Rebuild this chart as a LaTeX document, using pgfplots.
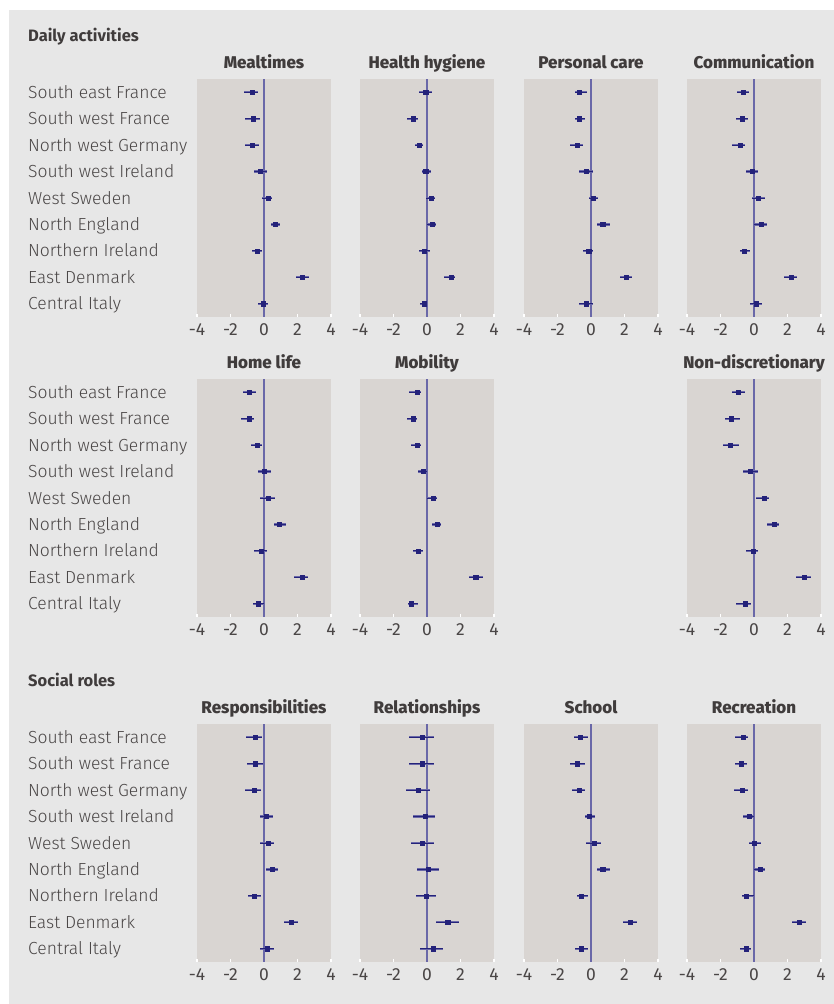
\documentclass[border=0pt]{standalone}
\usepackage{pgfplots}
\pgfplotsset{compat=1.18}
\usepackage{pgfplotstable}
\usepackage{fontspec}
\setmainfont{Fira Sans}[UprightFont=* Light, BoldFont=* Bold]
\newfontfamily\heavy{Fira Sans}[UprightFont=* ExtraBold]
\newfontfamily\regular{Fira Sans}

\definecolor{bg}{HTML}{E7E7E7}
\definecolor{panel}{HTML}{D9D5D2}
\definecolor{navy}{HTML}{24227A}
\definecolor{navylt}{HTML}{6A68A8}
\definecolor{txt}{HTML}{4A4646}
\definecolor{ttl}{HTML}{403C3C}

\pgfplotstableread{
r m lo hi
1 -0.72 -1.17 -0.34
2 -0.66 -1.11 -0.22
3 -0.72 -1.11 -0.28
4 -0.24 -0.58 0.16
5 0.24 -0.12 0.48
6 0.68 0.44 0.98
7 -0.40 -0.70 -0.10
8 2.29 1.93 2.71
9 -0.04 -0.34 0.26
}\tMeal
\pgfplotstableread{
r m lo hi
1 -0.08 -0.46 0.30
2 -0.84 -1.19 -0.56
3 -0.48 -0.72 -0.22
4 -0.08 -0.30 0.22
5 0.24 -0.08 0.48
6 0.30 0.02 0.54
7 -0.18 -0.46 0.18
8 1.43 1.00 1.67
9 -0.18 -0.40 0.02
}\tHyg
\pgfplotstableread{
r m lo hi
1 -0.70 -0.98 -0.22
2 -0.70 -0.98 -0.34
3 -0.82 -1.26 -0.46
4 -0.28 -0.74 0.14
5 0.12 -0.14 0.44
6 0.70 0.34 1.12
7 -0.14 -0.46 0.14
8 2.08 1.72 2.42
9 -0.28 -0.74 0.14
}\tPers
\pgfplotstableread{
r m lo hi
1 -0.66 -1.00 -0.30
2 -0.72 -1.06 -0.36
3 -0.84 -1.30 -0.54
4 -0.10 -0.46 0.26
5 0.24 -0.14 0.64
6 0.42 0.00 0.78
7 -0.60 -0.82 -0.24
8 2.22 1.78 2.56
9 0.12 -0.24 0.48
}\tComm
\pgfplotstableread{
r m lo hi
1 -0.90 -1.27 -0.48
2 -0.90 -1.37 -0.58
3 -0.42 -0.80 -0.12
4 0.02 -0.34 0.40
5 0.24 -0.22 0.68
6 0.92 0.58 1.33
7 -0.18 -0.58 0.18
8 2.27 1.81 2.63
9 -0.36 -0.64 -0.02
}\tHome
\pgfplotstableread{
r m lo hi
1 -0.60 -1.05 -0.36
2 -0.84 -1.19 -0.58
3 -0.60 -0.94 -0.36
4 -0.24 -0.56 0.00
5 0.36 0.02 0.60
6 0.60 0.28 0.82
7 -0.54 -0.82 -0.26
8 2.91 2.51 3.36
9 -0.92 -1.13 -0.56
}\tMob
\pgfplotstableread{
r m lo hi
1 -0.94 -1.34 -0.52
2 -1.38 -1.72 -0.82
3 -1.44 -1.88 -0.88
4 -0.24 -0.68 0.22
5 0.62 0.14 0.88
6 1.22 0.80 1.50
7 -0.04 -0.46 0.26
8 3.01 2.51 3.43
9 -0.52 -1.06 -0.18
}\tNon
\pgfplotstableread{
r m lo hi
1 -0.52 -1.05 -0.10
2 -0.52 -1.03 -0.04
3 -0.58 -1.11 -0.20
4 0.14 -0.26 0.56
5 0.24 -0.26 0.62
6 0.50 0.14 0.82
7 -0.58 -0.94 -0.20
8 1.63 1.19 2.03
9 0.20 -0.24 0.62
}\tResp
\pgfplotstableread{
r m lo hi
1 -0.30 -1.07 0.42
2 -0.30 -1.09 0.42
3 -0.54 -1.27 0.20
4 -0.12 -0.82 0.48
5 -0.30 -0.96 0.40
6 0.06 -0.60 0.72
7 -0.06 -0.68 0.54
8 1.23 0.52 1.89
9 0.36 -0.42 0.96
}\tRel
\pgfplotstableread{
r m lo hi
1 -0.64 -1.02 -0.18
2 -0.82 -1.24 -0.34
3 -0.70 -1.14 -0.34
4 -0.10 -0.38 0.26
5 0.20 -0.30 0.62
6 0.70 0.34 1.12
7 -0.58 -0.86 -0.20
8 2.36 1.90 2.77
9 -0.58 -0.98 -0.16
}\tSch
\pgfplotstableread{
r m lo hi
1 -0.66 -1.12 -0.34
2 -0.78 -1.12 -0.42
3 -0.72 -1.18 -0.36
4 -0.30 -0.68 0.02
5 0.00 -0.28 0.44
6 0.36 0.00 0.68
7 -0.48 -0.72 0.00
8 2.69 2.24 3.11
9 -0.48 -0.84 -0.18
}\tRec

\pgfplotsset{
  forest/.style={
    scale only axis, width=134pt, height=238pt,
    xmin=-4, xmax=4, ymin=0.5, ymax=9.5, y dir=reverse,
    axis background/.style={fill=panel},
    axis line style={draw=none},
    xtick={-4,-2,0,2,4}, xticklabels={-4,-2,0,2,4},
    xtick pos=bottom, tick align=inside, major tick length=3pt,
    xtick style={white, line width=1.3pt},
    ytick style={draw=none},
    ytick=\empty,
    xticklabel style={font=\regular\fontsize{17.5}{17.5}\selectfont, text=txt, yshift=-3.5pt},
    title style={font=\heavy\fontsize{17}{17}\selectfont, text=ttl, at={(0.5,1)}, anchor=base, yshift=4.5pt},
  },
  labels/.style={
    ytick={1,...,9},
    yticklabels={South east France, South west France, North west Germany, South west Ireland, West Sweden, North England, Northern Ireland, East Denmark, Central Italy},
    yticklabel style={anchor=west, inner sep=0pt, xshift=-169pt, text height=12pt, text depth=0pt, font=\fontsize{17.5}{17.5}\selectfont, text=txt},
  },
}

\newcommand{\forestdata}[1]{%
  \draw[navylt, line width=1.4pt] (axis cs:0,0.5) -- (axis cs:0,9.5);
  \addplot[only marks, mark=square*, mark size=2.1pt, navy,
    error bars/.cd, x dir=both, x explicit, error mark=none,
    error bar style={line width=2.3pt, navylt}]
    table[x=m, y=r, x error plus expr=\thisrow{hi}-\thisrow{m}, x error minus expr=\thisrow{m}-\thisrow{lo}] {#1};
  \addplot[only marks, mark=square*, mark size=2.1pt, navy,
    error bars/.cd, x dir=both, x explicit, error mark=none,
    error bar style={line width=0.9pt, navy}]
    table[x=m, y=r, x error plus expr=\thisrow{hi}-\thisrow{m}, x error minus expr=\thisrow{m}-\thisrow{lo}] {#1};
}

\begin{document}
\begin{tikzpicture}
\path[use as bounding box] (0,0) rectangle (834pt,-1004pt);
\fill[bg] (9pt,-10pt) rectangle (834pt,-1004pt);
\node[anchor=base west, inner sep=0pt, font=\bfseries\fontsize{16.5}{16.5}\selectfont, text=ttl] at (28pt,-41pt) {Daily activities};
\node[anchor=base west, inner sep=0pt, font=\bfseries\fontsize{16.5}{16.5}\selectfont, text=ttl] at (28pt,-686pt) {Social roles};

% Row 1
\begin{axis}[forest, labels, at={(197pt,-79pt)}, anchor=north west, title={Mealtimes}]
\forestdata{\tMeal}
\end{axis}
\begin{axis}[forest, at={(360pt,-79pt)}, anchor=north west, title={Health hygiene}]
\forestdata{\tHyg}
\end{axis}
\begin{axis}[forest, at={(524pt,-79pt)}, anchor=north west, title={Personal care}]
\forestdata{\tPers}
\end{axis}
\begin{axis}[forest, at={(687pt,-79pt)}, anchor=north west, title={Communication}]
\forestdata{\tComm}
\end{axis}

% Row 2
\begin{axis}[forest, labels, at={(197pt,-379pt)}, anchor=north west, title={Home life}]
\forestdata{\tHome}
\end{axis}
\begin{axis}[forest, at={(360pt,-379pt)}, anchor=north west, title={Mobility}]
\forestdata{\tMob}
\end{axis}
\begin{axis}[forest, at={(687pt,-379pt)}, anchor=north west, title={Non-discretionary}]
\forestdata{\tNon}
\end{axis}

% Row 3
\begin{axis}[forest, labels, at={(197pt,-724pt)}, anchor=north west, title={Responsibilities}]
\forestdata{\tResp}
\end{axis}
\begin{axis}[forest, at={(360pt,-724pt)}, anchor=north west, title={Relationships}]
\forestdata{\tRel}
\end{axis}
\begin{axis}[forest, at={(524pt,-724pt)}, anchor=north west, title={School}]
\forestdata{\tSch}
\end{axis}
\begin{axis}[forest, at={(687pt,-724pt)}, anchor=north west, title={Recreation}]
\forestdata{\tRec}
\end{axis}
\end{tikzpicture}
\end{document}
